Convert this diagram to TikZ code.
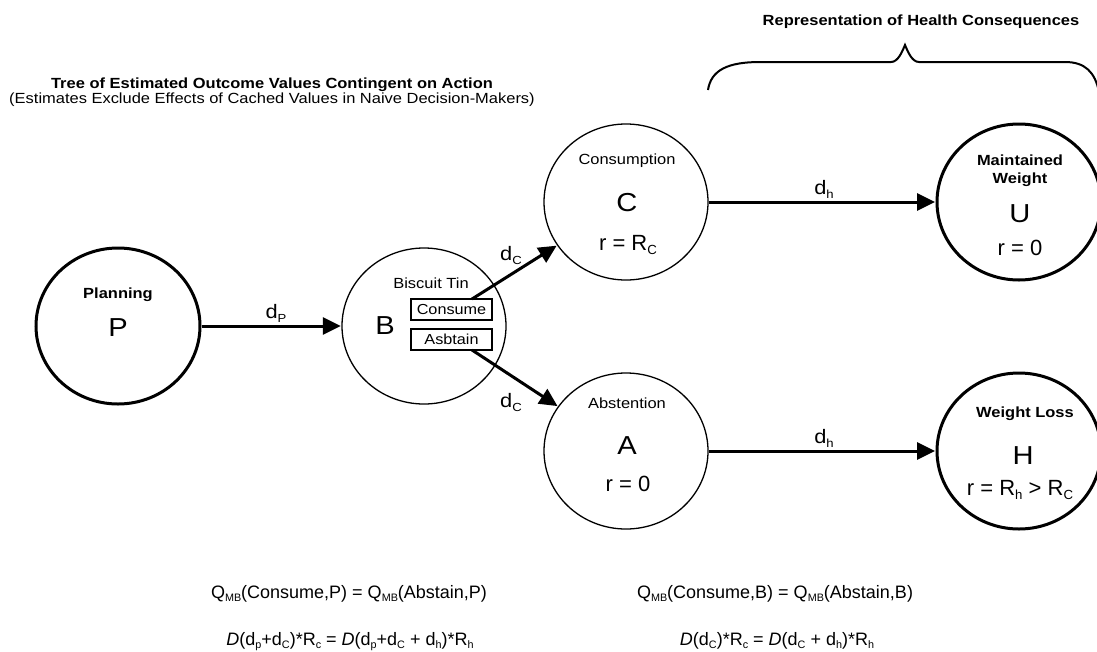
\documentclass[tikz,border=0pt]{standalone}
\usepackage{fontspec}
\setmainfont{Liberation Sans}[FakeStretch=1.12]
\newfontfamily\plainsans{Liberation Sans}
\usetikzlibrary{arrows.meta,shapes.geometric}
\newcommand\fsz[1]{\fontsize{#1}{#1}\selectfont}
\newcommand\lo[1]{\raisebox{-0.22em}{\scalebox{0.6}{#1}}}
\tikzset{
  thickell/.style={draw, ellipse, line width=3pt, minimum width=164pt, minimum height=156pt, inner sep=0pt},
  thinell/.style={draw, ellipse, line width=1.3pt, minimum width=164pt, minimum height=156pt, inner sep=0pt},
  bigarrow/.style={line width=3pt, -{Triangle[length=18pt,width=17pt]}, shorten >=0.5pt},
  smalltxt/.style={inner sep=0pt, anchor=base, font=\fsz{14.7}},
  boldtxt/.style={inner sep=0pt, anchor=base, font=\bfseries\fsz{14.7}},
  bigletter/.style={inner sep=0pt, anchor=base, font=\fsz{26}},
  rtxt/.style={inner sep=0pt, anchor=base, font=\plainsans\fsz{22}},
  dlabel/.style={inner sep=0pt, anchor=base, font=\fsz{19.5}},
  formula/.style={inner sep=0pt, anchor=base, font=\plainsans\fsz{18}},
  choice/.style={draw, line width=1.3pt, rectangle, minimum width=81pt, minimum height=21pt, inner sep=0pt, font=\fsz{14.5}},
}
\begin{document}
\begin{tikzpicture}[x=1pt,y=-1pt]
\useasboundingbox[fill=white] (0,0) rectangle (1097,651);

% titles
\node[boldtxt] (t1) at (272,88.5) {Tree of Estimated Outcome Values Contingent on Action};
\node[smalltxt] (t2) at (272,103) {(Estimates Exclude Effects of Cached Values in Naive Decision-Makers)};
\node[boldtxt] (t3) at (921,25) {Representation of Health Consequences};

% brace
\draw[line width=2pt] (708,90) .. controls (711,70) and (728,62) .. (760,62)
  -- (891,62) .. controls (898,62) and (902,52) .. (905,45)
  .. controls (908,52) and (912,62) .. (919,62)
  -- (1065,62) .. controls (1085,62) and (1095,72) .. (1099,92);

% state nodes
\node[thickell] (P) at (118,326) {};
\node[thinell]  (B) at (424,326) {};
\node[thinell]  (C) at (626,202) {};
\node[thinell]  (A) at (626,451) {};
\node[thickell] (U) at (1019,202) {};
\node[thickell] (H) at (1019,451) {};

% texts in P
\node[boldtxt] (Pn) at (118,298.5) {Planning};
\node[bigletter] (Pl) at (118,336.5) {P};
% texts in B
\node[smalltxt] (Bn) at (431,288.5) {Biscuit Tin};
\node[bigletter] (Bl) at (385,334.5) {B};
\node[choice] (cbox) at (451.5,309.5) {Consume};
\node[choice] (abox) at (451.5,339.5) {Asbtain};
% texts in C
\node[smalltxt] (Cn) at (627,164.5) {Consumption};
\node[bigletter] (Cl) at (627,211.5) {C};
\node[rtxt] (Cr) at (628,250) {r = R\lo{C}};
% texts in A
\node[smalltxt] (An) at (627,408.5) {Abstention};
\node[bigletter] (Al) at (627,454.5) {A};
\node[rtxt] (Ar) at (628,491) {r = 0};
% texts in U
\node[boldtxt] (Un1) at (1020,165.5) {Maintained};
\node[boldtxt] (Un2) at (1020,183.5) {Weight};
\node[bigletter] (Ul) at (1020,222.5) {U};
\node[rtxt] (Ur) at (1020,255) {r = 0};
% texts in H
\node[boldtxt] (Hn) at (1025,417.5) {Weight Loss};
\node[bigletter] (Hl) at (1023,464.5) {H};
\node[rtxt] (Hr) at (1020,495) {r = R\lo{h} > R\lo{C}};

% connectors
\coordinate (cs) at (472,299);
\coordinate (as) at (472,350);
\draw[bigarrow] (P) -- (B);
\draw[bigarrow] (cs) -- (C);
\draw[bigarrow] (as) -- (A);
\draw[bigarrow] (C) -- (U);
\draw[bigarrow] (A) -- (H);

% connector labels
\node[dlabel] (lP) at (276,318) {d\lo{P}};
\node[dlabel] (lC1) at (511,260) {d\lo{C}};
\node[dlabel] (lC2) at (511,407) {d\lo{C}};
\node[dlabel] (lh1) at (824,194) {d\lo{h}};
\node[dlabel] (lh2) at (824,443) {d\lo{h}};

% formulas
\node[formula] (f1) at (349,598) {Q\lo{MB}(Consume,P) = Q\lo{MB}(Abstain,P)};
\node[formula] (f2) at (350,645) {\textit{D}(d\lo{p}+d\lo{C})*R\lo{c} = \textit{D}(d\lo{p}+d\lo{C} + d\lo{h})*R\lo{h}};
\node[formula] (f3) at (775,598) {Q\lo{MB}(Consume,B) = Q\lo{MB}(Abstain,B)};
\node[formula] (f4) at (777,645) {\textit{D}(d\lo{C})*R\lo{c} = \textit{D}(d\lo{C} + d\lo{h})*R\lo{h}};
\end{tikzpicture}
\end{document}
